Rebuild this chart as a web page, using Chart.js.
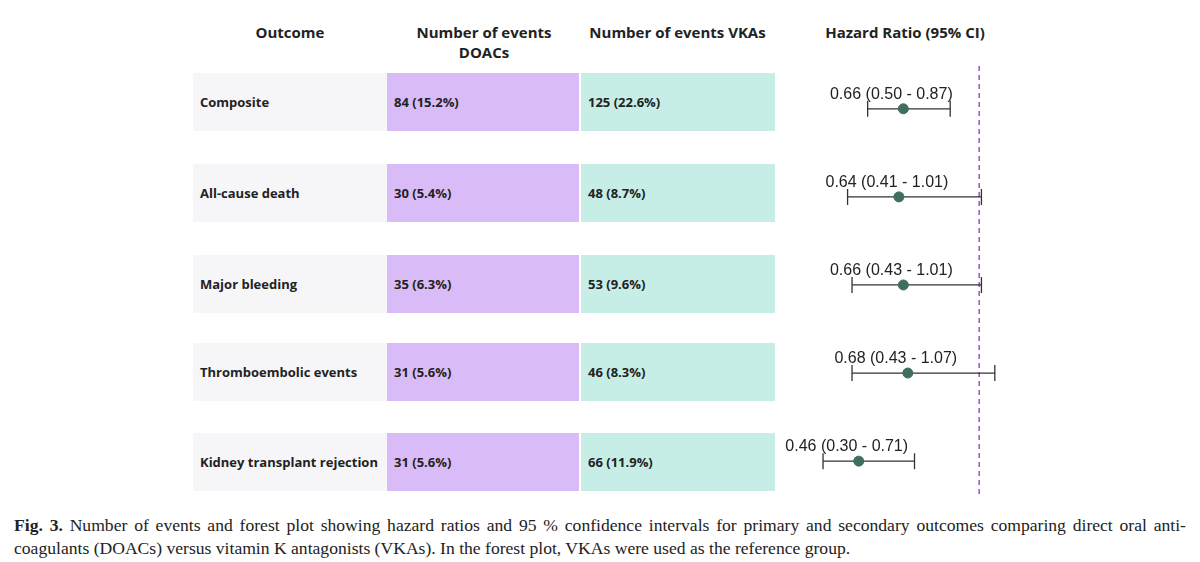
<!DOCTYPE html>
<html><head><meta charset="utf-8">
<script src="https://cdn.jsdelivr.net/npm/chart.js@4"></script>
<style>
body{margin:0;width:1200px;height:562px;background:#fff;position:relative;font-family:"Open Sans",sans-serif;overflow:hidden}
.hd{position:absolute;font-weight:bold;font-size:15px;color:#222;text-align:center}
.cell{position:absolute;height:58px;line-height:58px;font-weight:bold;font-size:13px;color:#222;padding-left:7px;box-sizing:border-box;white-space:nowrap}
#cap{position:absolute;left:14px;top:514px;width:1172px;font-family:"Liberation Serif",serif;font-size:17.6px;line-height:23px;color:#222;text-align:justify}
#fp{position:absolute;left:780px;top:60px}
</style></head><body>
<div class="hd" style="left:193px;width:194px;top:22px">Outcome</div>
<div class="hd" style="left:387px;width:194px;top:22px">Number of events<br>DOACs</div>
<div class="hd" style="left:580px;width:195px;top:22px">Number of events VKAs</div>
<div class="hd" style="left:800px;width:210px;top:22px">Hazard Ratio (95% CI)</div>
<div id="rows"></div>
<canvas id="fp" width="240" height="445" style="width:240px;height:445px"></canvas>
<div id="cap"><b>Fig. 3.</b> Number of events and forest plot showing hazard ratios and 95 % confidence intervals for primary and secondary outcomes comparing direct oral anti-&#8203;coagulants (DOACs) versus vitamin K antagonists (VKAs). In the forest plot, VKAs were used as the reference group.</div>
<script>
const outcomes = ['Composite', 'All-cause death', 'Major bleeding', 'Thromboembolic events', 'Kidney transplant rejection'];
const doacEvents = ['84 (15.2%)', '30 (5.4%)', '35 (6.3%)', '31 (5.6%)', '31 (5.6%)'];
const vkaEvents = ['125 (22.6%)', '48 (8.7%)', '53 (9.6%)', '46 (8.3%)', '66 (11.9%)'];
const hr = [0.66, 0.64, 0.66, 0.68, 0.46];
const ciLow = [0.50, 0.41, 0.43, 0.43, 0.30];
const ciHigh = [0.87, 1.01, 1.01, 1.07, 0.71];

const rowTops = [73, 164, 255, 343, 433];
const rows = document.getElementById('rows');
outcomes.forEach((o, i) => {
    const t = rowTops[i];
    rows.innerHTML += `
        <div class="cell" style="left:193px;width:194px;top:${t}px;background:#f6f6f9">${o}</div>
        <div class="cell" style="left:387px;width:193px;top:${t}px;background:#d9bcf7;border-right:1px solid #fff">${doacEvents[i]}</div>
        <div class="cell" style="left:581px;width:194px;top:${t}px;background:#c6eee6">${vkaEvents[i]}</div>`;
});

// whiskers, reference line and labels drawn from the scales
const forestPlugin = {
    id: 'forest',
    beforeDatasetsDraw(chart) {
        const { ctx, scales: { x, y }, chartArea } = chart;
        ctx.save();
        ctx.strokeStyle = '#9b4fd6';
        ctx.lineWidth = 1.5;
        ctx.setLineDash([5, 4]);
        ctx.beginPath();
        ctx.moveTo(x.getPixelForValue(1), chartArea.top);
        ctx.lineTo(x.getPixelForValue(1), chartArea.bottom - 2);
        ctx.stroke();
        ctx.setLineDash([]);
        ctx.strokeStyle = '#333';
        ctx.lineWidth = 1.3;
        ctx.fillStyle = '#222';
        ctx.font = '16px "Liberation Sans", Arial, sans-serif';
        ctx.textAlign = 'center';
        hr.forEach((v, i) => {
            const py = y.getPixelForValue(i);
            const x1 = x.getPixelForValue(ciLow[i]), x2 = x.getPixelForValue(ciHigh[i]);
            ctx.beginPath();
            ctx.moveTo(x1, py); ctx.lineTo(x2, py);
            ctx.moveTo(x1, py - 8); ctx.lineTo(x1, py + 8);
            ctx.moveTo(x2, py - 8); ctx.lineTo(x2, py + 8);
            ctx.stroke();
            const lbl = `${v.toFixed(2)} (${ciLow[i].toFixed(2)} - ${ciHigh[i].toFixed(2)})`;
            ctx.fillText(lbl, x.getPixelForValue(v) - 12, py - 10);
        });
        ctx.restore();
    }
};

new Chart(document.getElementById('fp'), {
    type: 'scatter',
    data: {
        datasets: [{
            data: hr.map((v, i) => ({ x: v, y: i })),
            backgroundColor: '#3e6e5c',
            borderColor: '#3e6e5c',
            pointRadius: 5
        }]
    },
    options: {
        responsive: false,
        animation: false,
        layout: { padding: 0 },
        plugins: { legend: { display: false }, tooltip: { enabled: false } },
        scales: {
            x: { type: 'linear', min: 0.134, max: 1.156, display: false },
            y: { type: 'linear', min: -0.486, max: 4.43, reverse: true, display: false }
        }
    },
    plugins: [forestPlugin]
});
</script>
</body></html>
